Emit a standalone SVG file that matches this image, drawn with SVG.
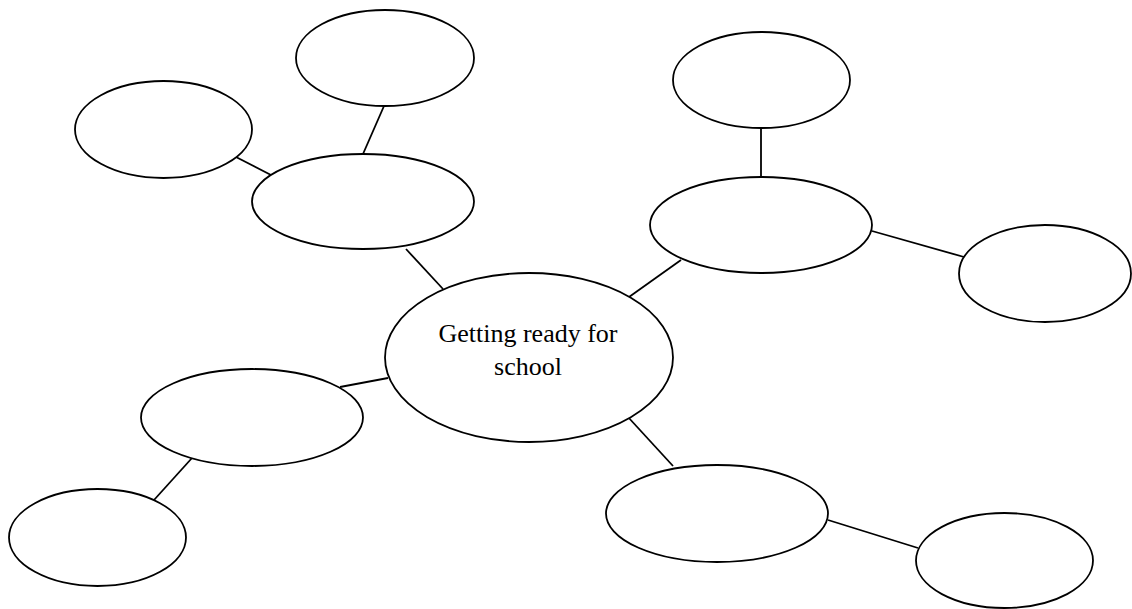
<svg xmlns="http://www.w3.org/2000/svg" width="1132" height="609" viewBox="0 0 1132 609">
  <style>
    .node { fill: #ffffff; stroke: #000000; stroke-width: 1.8; }
    .conn line { stroke: #000000; stroke-width: 1.8; }
    .label { font-family: "Liberation Serif", "Times New Roman", serif; font-size: 26px; fill: #000000; text-anchor: middle; }
  </style>
  <rect width="1132" height="609" fill="#ffffff"/>
  <g id="connectors" class="conn">
    <line x1="406" y1="249" x2="443" y2="289"/>
    <line x1="384" y1="106" x2="363" y2="154"/>
    <line x1="236" y1="157" x2="271" y2="175"/>
    <line x1="681" y1="260" x2="629" y2="297"/>
    <line x1="761" y1="128" x2="761" y2="177"/>
    <line x1="872" y1="231" x2="964" y2="257"/>
    <line x1="388" y1="378" x2="340" y2="387"/>
    <line x1="192" y1="458" x2="154" y2="500"/>
    <line x1="628" y1="417" x2="673" y2="466"/>
    <line x1="828" y1="520" x2="918" y2="548"/>
  </g>
  <g id="center">
    <ellipse class="node" cx="529" cy="357.5" rx="144" ry="84.5"/>
    <text class="label" x="528" y="342">Getting ready for</text>
    <text class="label" x="528" y="375">school</text>
  </g>
  <g id="top-left-branch"><ellipse class="node" cx="363" cy="201.5" rx="111" ry="47.5"/></g>
  <g id="top-left-top"><ellipse class="node" cx="385" cy="58" rx="89" ry="48"/></g>
  <g id="top-left-left"><ellipse class="node" cx="163.5" cy="129.5" rx="88.5" ry="48.5"/></g>
  <g id="right-branch"><ellipse class="node" cx="761" cy="225" rx="111" ry="48"/></g>
  <g id="right-top"><ellipse class="node" cx="761.5" cy="80" rx="88.5" ry="48"/></g>
  <g id="right-right"><ellipse class="node" cx="1045" cy="273.5" rx="86" ry="48.5"/></g>
  <g id="left-branch"><ellipse class="node" cx="252" cy="417.5" rx="111" ry="48.5"/></g>
  <g id="left-bottom"><ellipse class="node" cx="97.5" cy="537.5" rx="88.5" ry="48.5"/></g>
  <g id="bottom-right-branch"><ellipse class="node" cx="717" cy="513.5" rx="111" ry="48.5"/></g>
  <g id="bottom-right-right"><ellipse class="node" cx="1004.5" cy="560.5" rx="88.5" ry="47.5"/></g>
</svg>
